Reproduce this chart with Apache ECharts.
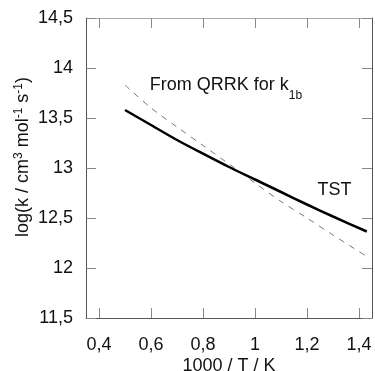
<!DOCTYPE html>
<html>
<head>
<meta charset="utf-8">
<script src="https://cdn.jsdelivr.net/npm/echarts@6/dist/echarts.min.js"></script>
<style>
  html, body { margin: 0; padding: 0; background: #fff; }
  #chart { width: 375px; height: 371px; }
</style>
</head>
<body>
<div id="chart"></div>
<script>
// 1000/T values where the curves are read
const invT = [0.5, 0.6, 0.7, 0.8, 0.9, 1.0, 1.1, 1.2, 1.3, 1.43];
// TST (solid) and QRRK k1b (dashed), log10 k
const tst = [13.58, 13.43, 13.28, 13.143, 13.01, 12.885, 12.76, 12.635, 12.515, 12.365];
const qrrk = [13.83, 13.60, 13.41, 13.225, 13.04, 12.85, 12.665, 12.50, 12.33, 12.115];
const xTicks = [0.4, 0.6, 0.8, 1.0, 1.2, 1.4];
// annotation anchors (data coords)
const qrrkLabelAt = [0.595, 13.83];
const tstLabelAt = [1.306, 12.78];

const FONT = '"Liberation Sans", Arial, sans-serif';
const comma = (v) => String(+v.toFixed(2)).replace('.', ',');

const chart = echarts.init(document.getElementById('chart'));

const tickStyle = { color: '#888', width: 1 };

const option = {
  animation: false,
  backgroundColor: '#fff',
  textStyle: { fontFamily: FONT },
  // outerBoundsMode none: keep the box where it is, the axis name may run off the bottom
  grid: { left: 86, right: 3, top: 18, bottom: 53, containLabel: false, outerBoundsMode: 'none' },
  xAxis: [
    {
      type: 'value',
      min: 0.35,
      max: 1.45,
      position: 'bottom',
      name: '1000 / T / K',
      nameLocation: 'middle',
      nameGap: 39,
      nameMoveOverlap: false,
      nameTextStyle: { fontSize: 18, color: '#111', fontFamily: FONT },
      axisLine: { lineStyle: { color: '#555', width: 1 } },
      axisTick: { inside: true, length: 10, lineStyle: tickStyle, customValues: xTicks },
      axisLabel: { customValues: xTicks, fontSize: 18, color: '#111', margin: 18, formatter: comma },
      splitLine: { show: false },
    },
    {
      type: 'value',
      min: 0.35,
      max: 1.45,
      position: 'top',
      axisLine: { lineStyle: { color: '#aaa', width: 1 } },
      axisTick: { inside: true, length: 10, lineStyle: tickStyle, customValues: xTicks },
      axisLabel: { show: false },
      splitLine: { show: false },
    },
  ],
  yAxis: [
    {
      type: 'value',
      min: 11.5,
      max: 14.5,
      interval: 0.5,
      position: 'left',
      name: '{n|log(k / cm}{s|3}{n| mol}{s|-1}{n| s}{s|-1}{n|)}',
      nameLocation: 'middle',
      nameRotate: 90,
      nameGap: 53,
      nameMoveOverlap: false,
      nameTextStyle: {
        color: '#111',
        padding: [0, 0, 0, 22],
        rich: {
          n: { fontSize: 18, lineHeight: 20, color: '#111', fontFamily: FONT },
          s: { fontSize: 12, lineHeight: 20, color: '#111', fontFamily: FONT, verticalAlign: 'top' },
        },
      },
      axisLine: { show: true, lineStyle: { color: '#555', width: 1 } },
      axisTick: { inside: true, length: 10, lineStyle: tickStyle },
      axisLabel: { fontSize: 18, color: '#111', margin: 13, formatter: comma },
      splitLine: { show: false },
    },
    {
      type: 'value',
      min: 11.5,
      max: 14.5,
      interval: 0.5,
      position: 'right',
      axisLine: { show: true, lineStyle: { color: '#555', width: 1 } },
      axisTick: { inside: true, length: 10, lineStyle: tickStyle },
      axisLabel: { show: false },
      splitLine: { show: false },
    },
  ],
  series: [
    {
      name: 'TST',
      type: 'line',
      smooth: 0.3,
      symbol: 'none',
      lineStyle: { color: '#000', width: 2.5 },
      data: invT.map((x, i) => [x, tst[i]]),
      z: 3,
    },
    {
      name: 'QRRK',
      type: 'line',
      smooth: 0.3,
      symbol: 'none',
      lineStyle: { color: '#777', width: 1, type: [6, 6] },
      data: invT.map((x, i) => [x, qrrk[i]]),
      z: 2,
    },
  ],
};

chart.setOption(option);

// annotations placed through the axes
const p1 = chart.convertToPixel({ gridIndex: 0 }, qrrkLabelAt);
const p2 = chart.convertToPixel({ gridIndex: 0 }, tstLabelAt);
chart.setOption({
  graphic: [
    {
      type: 'text',
      x: p1[0],
      y: p1[1],
      style: {
        text: '{n|From QRRK for k}{b|1b}',
        align: 'left',
        verticalAlign: 'middle',
        rich: {
          n: { fontSize: 18, lineHeight: 18, fill: '#111', fontFamily: FONT },
          b: { fontSize: 12, fill: '#111', fontFamily: FONT, verticalAlign: 'bottom', padding: [22, 0, 0, 0] },
        },
      },
    },
    {
      type: 'text',
      x: p2[0],
      y: p2[1],
      style: {
        text: 'TST',
        fontSize: 18,
        fill: '#111',
        fontFamily: FONT,
        align: 'center',
        verticalAlign: 'middle',
      },
    },
  ],
});
</script>
</body>
</html>
